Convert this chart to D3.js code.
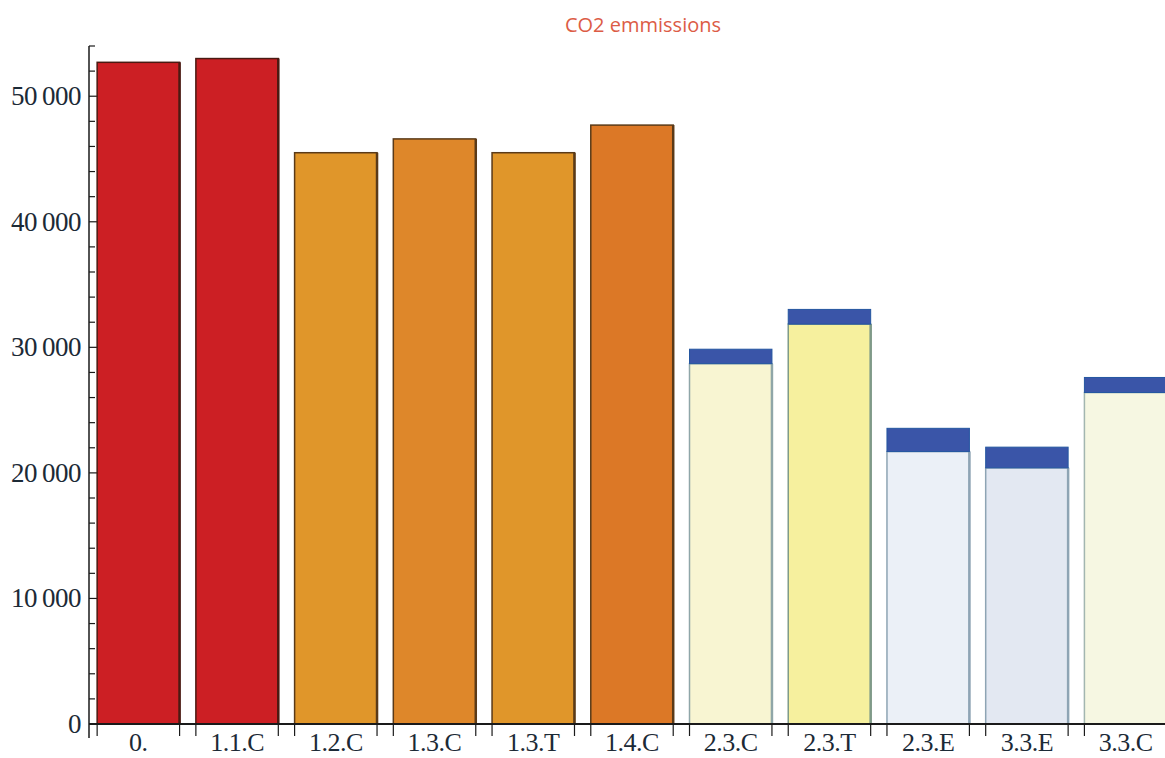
<!DOCTYPE html>
<html><head><meta charset="utf-8">
<script src="https://cdn.jsdelivr.net/npm/d3@7"></script>
<style>body{margin:0;background:#fff}svg{display:block}</style>
</head><body>
<svg id="c" width="1165" height="758"></svg>
<script>
const categories = ["0.", "1.1.C", "1.2.C", "1.3.C", "1.3.T", "1.4.C", "2.3.C", "2.3.T", "2.3.E", "3.3.E", "3.3.C"];
const baseValues = [52700, 53000, 45500, 46600, 45500, 47700, 28700, 31850, 21700, 20400, 26400];
const capValues = [0, 0, 0, 0, 0, 0, 1150, 1170, 1850, 1650, 1200];
const barColors = ["#cc1f24", "#cc1f24", "#e0962a", "#de872a", "#e0962a", "#dc7826", "#f8f5d2", "#f6f09e", "#ebf0f7", "#e3e8f2", "#f6f7e2"];
const barStrokes = ["#4a1a12", "#4a1a12", "#5a3a18", "#5a3a18", "#5a3a18", "#5a3a18", "#8fa6a8", "#7f9a88", "#8ea4b4", "#8ea4b4", "#a2b6b0"];
const capColor = "#3a55a8";
const yTicks = [0, 10000, 20000, 30000, 40000, 50000];
const yTickLabels = ["0", "10\u2009000", "20\u2009000", "30\u2009000", "40\u2009000", "50\u2009000"];
const title = "CO2 emmissions";

const svg = d3.select("#c");
const x0 = 89, x1 = 1175, yZero = 724, yTop = 46;
const x = d3.scaleBand().domain(categories).range([x0, x1]).paddingInner(0.165).paddingOuter(0.0825);
const y = d3.scaleLinear().domain([0, 54000]).range([yZero, yTop]);

// minor ticks
const minor = d3.range(0, 54001, 2000);
svg.append("g").selectAll("line").data(minor).join("line")
  .attr("x1", x0).attr("x2", d => yTicks.includes(d) ? x0 + 10 : x0 + 6)
  .attr("y1", d => y(d)).attr("y2", d => y(d))
  .attr("stroke", "#1a1a1a").attr("stroke-width", 1.2);

// bars
const bars = svg.append("g");
bars.selectAll("rect.base").data(categories).join("rect").attr("class", "base")
  .attr("x", d => x(d)).attr("width", x.bandwidth())
  .attr("y", (d, i) => y(baseValues[i])).attr("height", (d, i) => yZero - y(baseValues[i]))
  .attr("fill", (d, i) => barColors[i]).attr("stroke", (d, i) => barStrokes[i]).attr("stroke-width", 1.5);
// right-edge shadow
bars.selectAll("line.sh").data(categories).join("line").attr("class", "sh")
  .attr("x1", d => x(d) + x.bandwidth()).attr("x2", d => x(d) + x.bandwidth())
  .attr("y1", (d, i) => y(baseValues[i])).attr("y2", yZero)
  .attr("stroke", (d, i) => barStrokes[i]).attr("stroke-width", 2.5);
bars.selectAll("rect.cap").data(categories.filter((d, i) => capValues[i] > 0)).join("rect").attr("class", "cap")
  .attr("x", d => x(d)).attr("width", x.bandwidth())
  .attr("y", d => { const i = categories.indexOf(d); return y(baseValues[i] + capValues[i]); })
  .attr("height", d => { const i = categories.indexOf(d); return y(baseValues[i]) - y(baseValues[i] + capValues[i]); })
  .attr("fill", capColor).attr("stroke", "#2456a0").attr("stroke-width", 1);

// axes lines
svg.append("line").attr("x1", x0).attr("x2", x0).attr("y1", yTop).attr("y2", yZero + 14)
  .attr("stroke", "#1a1a1a").attr("stroke-width", 1.5);
svg.append("line").attr("x1", x0).attr("x2", 1165).attr("y1", yZero).attr("y2", yZero)
  .attr("stroke", "#1a1a1a").attr("stroke-width", 2);

// x ticks at band edges
const edges = [];
categories.forEach(c => { edges.push(x(c)); edges.push(x(c) + x.bandwidth()); });
svg.append("g").selectAll("line").data(edges).join("line")
  .attr("x1", d => d).attr("x2", d => d).attr("y1", yZero).attr("y2", yZero + 12)
  .attr("stroke", "#1a1a1a").attr("stroke-width", 1.2);

// y labels
svg.append("g").selectAll("text").data(yTicks).join("text")
  .attr("x", 81).attr("y", d => y(d) + 9).attr("text-anchor", "end")
  .attr("font-family", "Liberation Serif, serif").attr("font-size", 27).attr("fill", "#1c2a36")
  .attr("letter-spacing", -0.5)
  .text((d, i) => yTickLabels[i]);

// x labels
svg.append("g").selectAll("text").data(categories).join("text")
  .attr("x", d => x(d) + x.bandwidth() / 2).attr("y", 751).attr("text-anchor", "middle")
  .attr("font-family", "Liberation Serif, serif").attr("font-size", 26).attr("fill", "#1c2a36")
  .attr("letter-spacing", -0.5)
  .text(d => d);

// title
svg.append("text").attr("x", 643).attr("y", 32).attr("text-anchor", "middle")
  .attr("font-family", "Open Sans, sans-serif").attr("font-size", 20).attr("fill", "#dc5c46")
  .text(title);
</script>
</body></html>
